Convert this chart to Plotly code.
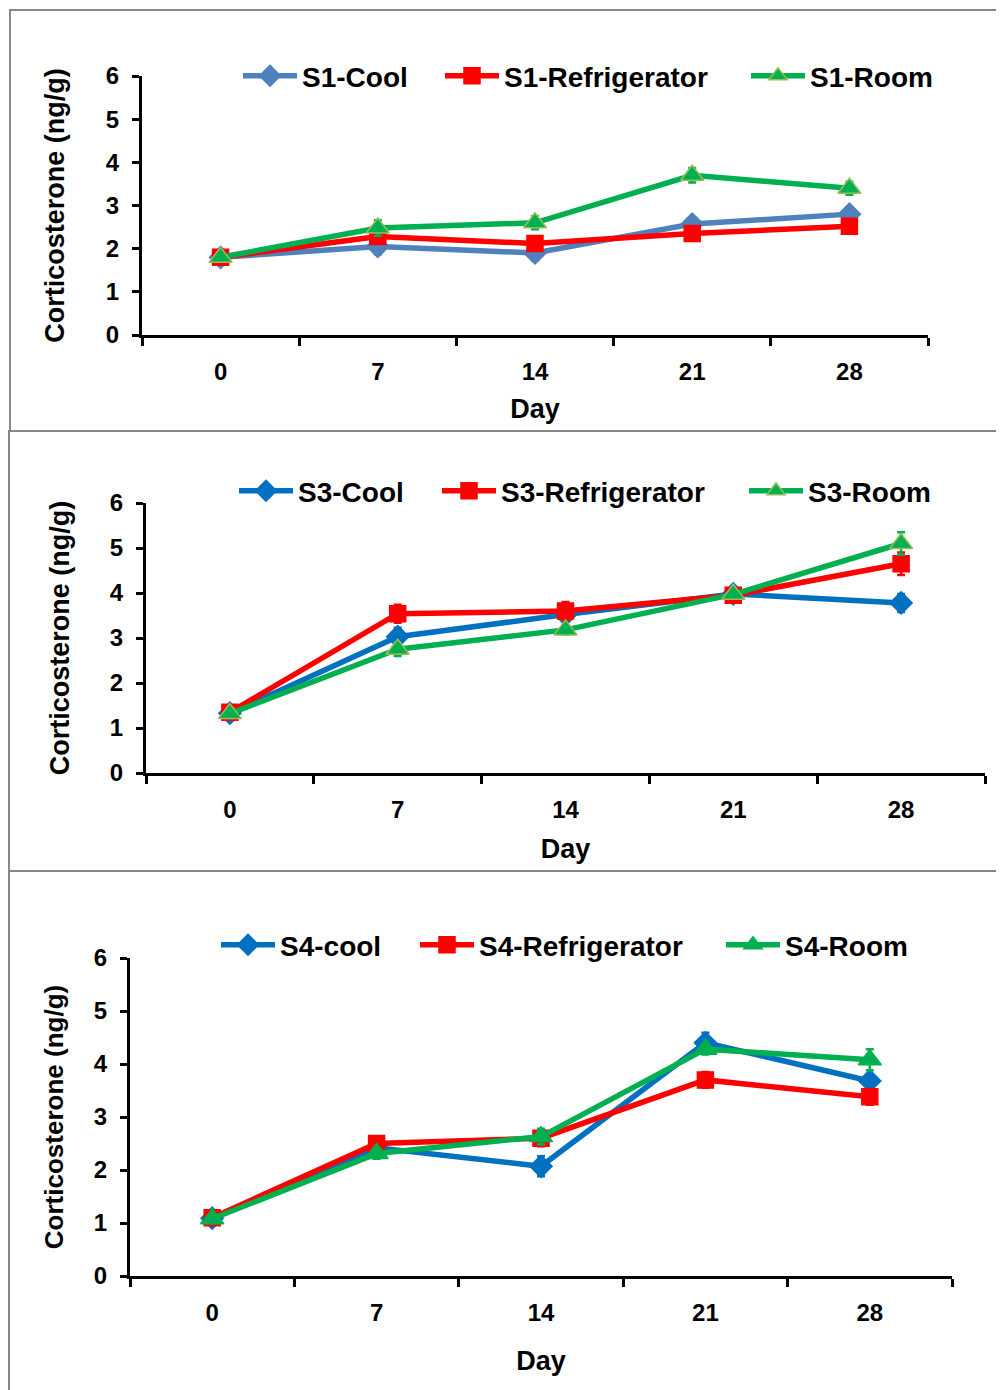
import plotly.graph_objects as go

# ---------------- data ----------------
days = ["0", "7", "14", "21", "28"]

s1_cool = [1.80, 2.05, 1.90, 2.57, 2.80]
s1_cool_err = [0.08, 0.18, 0.18, 0.15, 0.15]
s1_refr = [1.80, 2.28, 2.12, 2.35, 2.52]
s1_refr_err = [0.08, 0.12, 0.12, 0.12, 0.12]
s1_room = [1.80, 2.48, 2.60, 3.70, 3.40]
s1_room_err = [0.08, 0.18, 0.15, 0.17, 0.15]

s3_cool = [1.33, 3.03, 3.52, 3.98, 3.78]
s3_cool_err = [0.10, 0.20, 0.15, 0.15, 0.20]
s3_refr = [1.35, 3.54, 3.60, 3.95, 4.65]
s3_refr_err = [0.10, 0.20, 0.20, 0.15, 0.25]
s3_room = [1.32, 2.75, 3.18, 3.97, 5.10]
s3_room_err = [0.10, 0.15, 0.10, 0.10, 0.25]

s4_cool = [1.09, 2.42, 2.07, 4.40, 3.68]
s4_cool_err = [0.08, 0.10, 0.19, 0.19, 0.10]
s4_refr = [1.10, 2.50, 2.60, 3.70, 3.38]
s4_refr_err = [0.10, 0.10, 0.15, 0.15, 0.15]
s4_room = [1.08, 2.31, 2.63, 4.28, 4.08]
s4_room_err = [0.08, 0.10, 0.15, 0.10, 0.20]

panels = [
    (["S1-Cool", "S1-Refrigerator", "S1-Room"],
     [s1_cool, s1_refr, s1_room], [s1_cool_err, s1_refr_err, s1_room_err]),
    (["S3-Cool", "S3-Refrigerator", "S3-Room"],
     [s3_cool, s3_refr, s3_room], [s3_cool_err, s3_refr_err, s3_room_err]),
    (["S4-cool", "S4-Refrigerator", "S4-Room"],
     [s4_cool, s4_refr, s4_room], [s4_cool_err, s4_refr_err, s4_room_err]),
]

# ---------------- style ----------------
PAGE_W, PAGE_H = 1004, 1390
OFF = 8                      # default page body margin
W, H = PAGE_W - OFF, PAGE_H - OFF
FONT = "Liberation Sans, Arial, sans-serif"
RED = "#FF0000"
GREEN = "#00B050"
blues = ["#4F81BD", "#0070C0", "#0070C0"]
room_outline = ["#9BBB59", "#9BBB59", GREEN]

# page-pixel boxes of the plot areas: (x_left, x_right, y_bottom(0), y_top(6))
boxes = [(142, 928, 335, 76), (146, 985, 773, 503), (130, 952, 1276, 958)]
legend_pos = [(238, 76), (234, 491), (216, 945)]
legend_widths = [[133, 237, 120], [134, 238, 120], [130, 237, 120]]
ytitle_size = [27, 27, 26]
ytitle_standoff = [34, 33, 23]
xtitle_standoff = [16, 18, 27]

def px(x):
    return (x - OFF) / W

def py(y):
    return 1 - (y - OFF) / H

fig = go.Figure()

for i, (names, series, errs) in enumerate(panels):
    ax = "" if i == 0 else str(i + 1)
    leg = "legend" if i == 0 else f"legend{i + 1}"
    colors = [blues[i], RED, GREEN]
    symbols = ["diamond", "square", "triangle-up"]
    sizes = [17, 16, 20]
    outlines = [blues[i], RED, room_outline[i]]
    for k in range(3):
        fig.add_trace(go.Scatter(
            x=days, y=series[k], name=names[k],
            mode="lines+markers",
            xaxis="x" + ax, yaxis="y" + ax,
            legend=leg,
            legendwidth=legend_widths[i][k],
            line=dict(color=colors[k], width=5.5),
            marker=dict(symbol=symbols[k], size=sizes[k], color=colors[k],
                        line=dict(color=outlines[k], width=1.5)),
            error_y=dict(type="data", array=errs[k], visible=True,
                         color=colors[k], thickness=2.5, width=4),
        ))

layout = dict(
    width=W, height=H, autosize=False,
    margin=dict(l=0, r=0, t=0, b=0, pad=0, autoexpand=False),
    paper_bgcolor="white", plot_bgcolor="white",
    font=dict(family=FONT, color="black"),
    shapes=[],
)

for i, (xl, xr, yb, yt) in enumerate(boxes):
    ax = "" if i == 0 else str(i + 1)
    layout["xaxis" + ax] = dict(
        domain=[px(xl), px(xr)], anchor="y" + ax, automargin=False,
        type="category", range=[-0.5, 4.5], tickson="boundaries",
        showline=True, linecolor="black", linewidth=3,
        ticks="outside", ticklen=8, tickwidth=3, tickcolor="black",
        showgrid=False, zeroline=False,
        tickfont=dict(size=24, family=FONT, color="black", weight="bold"),
        ticklabelstandoff=13,
        title=dict(text="Day", standoff=xtitle_standoff[i],
                   font=dict(size=27, family=FONT, color="black", weight="bold")),
    )
    layout["yaxis" + ax] = dict(
        domain=[py(yb), py(yt)], anchor="x" + ax, automargin=False,
        range=[0, 6], dtick=1, tick0=0,
        showline=True, linecolor="black", linewidth=3,
        ticks="outside", ticklen=7, tickwidth=3, tickcolor="black",
        showgrid=False, zeroline=False,
        tickfont=dict(size=24, family=FONT, color="black", weight="bold"),
        ticklabelstandoff=8,
        title=dict(text="Corticosterone (ng/g)", standoff=ytitle_standoff[i],
                   font=dict(size=ytitle_size[i], family=FONT, color="black",
                             weight="bold")),
    )
    lx, ly = legend_pos[i]
    layout["legend" if i == 0 else f"legend{i + 1}"] = dict(
        orientation="h", x=px(lx), xanchor="left", y=py(ly), yanchor="middle",
        bgcolor="rgba(0,0,0,0)", itemwidth=54, traceorder="normal",
        font=dict(size=28, family=FONT, color="black", weight="bold"),
    )

# panel frames (page pixels)
frames = [(10, 10, 1020, 431), (9, 431, 1020, 871), (9, 871, 1020, 1410)]
for (x0, y0, x1, y1) in frames:
    layout["shapes"].append(dict(
        type="rect", xref="paper", yref="paper",
        x0=px(x0), x1=px(x1), y0=py(y1), y1=py(y0),
        line=dict(color="#888888", width=2), fillcolor="rgba(0,0,0,0)",
        layer="below"))

fig.update_layout(**layout)
fig.write_html("out.html")
